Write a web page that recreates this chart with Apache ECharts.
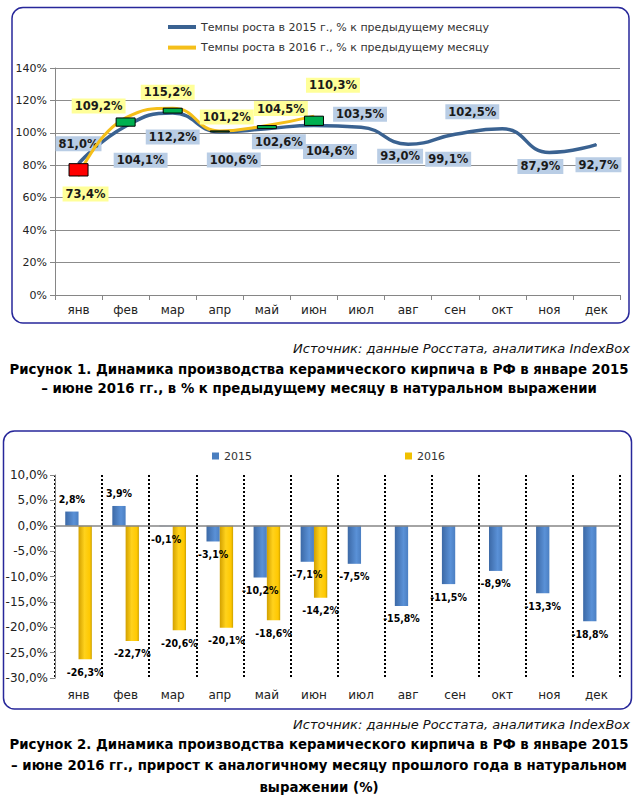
<!DOCTYPE html>
<html><head><meta charset="utf-8">
<script src="https://cdn.jsdelivr.net/npm/echarts@6/dist/echarts.min.js"></script>
<style>html,body{margin:0;padding:0;background:#fff}#c{width:634px;height:802px}</style>
</head><body><div id="c"></div>
<script>
const months = ['янв','фев','мар','апр','май','июн','июл','авг','сен','окт','ноя','дек'];
const growthName2015 = 'Темпы роста в 2015 г., % к предыдущему месяцу';
const growthName2016 = 'Темпы роста в 2016 г., % к предыдущему месяцу';
const growth2015 = [81.0,104.1,112.2,100.6,102.6,104.6,103.5,93.0,99.1,102.5,87.9,92.7];
const growth2016 = [73.4,109.2,115.2,101.2,104.5,110.3];
const yoyNames = ['2015','2016'];
const yoy2015 = [2.8,3.9,-0.1,-3.1,-10.2,-7.1,-7.5,-15.8,-11.5,-8.9,-13.3,-18.8];
const yoy2016 = [-26.3,-22.7,-20.6,-20.1,-18.6,-14.2];
const growthTicks = {min:0, max:140, interval:20};
const yoyTicks = {min:-30, max:10, interval:5};
const sourceText = 'Источник: данные Росстата, аналитика IndexBox';
const caption1 = ['Рисунок 1. Динамика производства керамического кирпича в РФ в январе 2015',
                  '– июне 2016 гг., в % к предыдущему месяцу в натуральном выражении'];
const caption2 = ['Рисунок 2. Динамика производства керамического кирпича в РФ в январе 2015',
                  '– июне 2016 гг., прирост к аналогичному месяцу прошлого года в натуральном',
                  'выражении (%)'];
// label placement (pixel offsets of each label from its point)
const lblOff2015 = [[0,-20],[15,34],[0,24],[14,28],[12,13],[16,26],[-1,-13],[-8,12],[-7,25],[-30,-17],[-9,14],[2,20]];
const lblOff2016 = [[7,18],[-27,-12],[-5,-16],[7,-14],[14,-17],[19,-31]];

const FONT = '"DejaVu Sans", Verdana, sans-serif';
const COND = '"DejaVu Sans Condensed", "DejaVu Sans", sans-serif';
const fmt1 = v => v.toFixed(1).replace('.', ',') + '%';
const fmt0 = v => v + '%';
const C15 = '#3a6291', C16 = '#f5bf1a';

const chart = echarts.init(document.getElementById('c'), null, {renderer:'svg'});

const graphics = [
  {type:'rect', shape:{x:12, y:7.5, width:617, height:315.5, r:11}, style:{fill:'none', stroke:'#27279a', lineWidth:1.5}, silent:true},
  {type:'rect', shape:{x:3.5, y:431, width:628, height:278, r:11}, style:{fill:'none', stroke:'#27279a', lineWidth:1.5}, silent:true},
  {type:'text', style:{text:sourceText, x:630, y:348, align:'right', verticalAlign:'middle', font:'italic 13px ' + FONT, fill:'#111'}},
  {type:'text', style:{text:sourceText, x:630, y:724, align:'right', verticalAlign:'middle', font:'italic 13px ' + FONT, fill:'#111'}}
];
[369, 388].forEach((y, i) => graphics.push({type:'text', style:{text:caption1[i], x:319, y:y, align:'center', verticalAlign:'middle', font:'bold 13.3px ' + FONT, fill:'#000'}}));
[744, 765, 787].forEach((y, i) => graphics.push({type:'text', style:{text:caption2[i], x:319, y:y, align:'center', verticalAlign:'middle', font:'bold 13.3px ' + FONT, fill:'#000'}}));

const lineLabel = (bg) => ({show:true, position:'inside', formatter:p => fmt1(p.value), fontFamily:FONT, fontWeight:'bold', fontSize:11.5, color:'#1a1a1a', backgroundColor:bg, padding:[1,3], lineHeight:13});

const blueGrad = {type:'linear', x:0, y:0, x2:1, y2:0, colorStops:[{offset:0,color:'#3c69a6'},{offset:0.65,color:'#5a91d7'},{offset:1,color:'#4b7fc2'}]};
const goldGrad = {type:'linear', x:0, y:0, x2:1, y2:0, colorStops:[{offset:0,color:'#d2a000'},{offset:0.45,color:'#ffd21c'},{offset:0.85,color:'#ffc800'},{offset:1,color:'#caa000'}]};
const barLabel = {show:true, formatter:p => fmt1(p.value), fontFamily:COND, fontWeight:'bold', fontSize:10.5, color:'#000', distance:7};

chart.setOption({
  animation:false,
  backgroundColor:'#fff',
  graphic:graphics,
  legend:[
    {orient:'vertical', left:163, top:15, itemWidth:28, itemHeight:4, itemGap:6.6, icon:'rect',
     textStyle:{fontFamily:FONT, fontSize:11, color:'#333', lineHeight:14},
     data:[{name:growthName2015}, {name:growthName2016}]},
    {orient:'horizontal', left:207, top:444, itemWidth:7, itemHeight:7, itemGap:153, icon:'rect',
     textStyle:{fontFamily:FONT, fontSize:11, color:'#333', lineHeight:14},
     data:[{name:yoyNames[0], itemStyle:{color:'#4a7ebf'}}, {name:yoyNames[1], itemStyle:{color:'#f0c000'}}]}
  ],
  grid:[
    {left:55, top:68, width:565, height:227},
    {left:55, top:475, width:565, height:203}
  ],
  xAxis:[
    {type:'category', gridIndex:0, data:months, boundaryGap:true,
     axisLine:{lineStyle:{color:'#868686', width:1}},
     axisTick:{show:true, alignWithLabel:false, length:5, lineStyle:{color:'#868686'}},
     axisLabel:{fontFamily:FONT, fontSize:12, color:'#222', margin:9},
     splitLine:{show:false}},
    {type:'category', gridIndex:1, data:months, boundaryGap:true,
     axisLine:{show:false, onZero:false}, axisTick:{show:false},
     axisLabel:{fontFamily:FONT, fontSize:12, color:'#222', margin:11},
     splitLine:{show:true, interval:0, lineStyle:{color:'#000', type:[2,2], width:2}}}
  ],
  yAxis:[
    {type:'value', gridIndex:0, min:growthTicks.min, max:growthTicks.max, interval:growthTicks.interval,
     axisLine:{show:true, lineStyle:{color:'#868686'}},
     axisTick:{show:true, length:5, lineStyle:{color:'#868686'}},
     axisLabel:{formatter:fmt0, fontFamily:FONT, fontSize:11, color:'#222', margin:8},
     splitLine:{show:true, lineStyle:{color:'#8c8c8c', width:1}}},
    {type:'value', gridIndex:1, min:yoyTicks.min, max:yoyTicks.max, interval:yoyTicks.interval,
     axisLine:{show:true, lineStyle:{color:'#868686'}},
     axisTick:{show:true, length:5, lineStyle:{color:'#868686'}},
     axisLabel:{formatter:fmt1, fontFamily:FONT, fontSize:12, color:'#222', margin:7},
     splitLine:{show:false}}
  ],
  series:[
    {name:growthName2016, type:'line', xAxisIndex:0, yAxisIndex:0, smooth:0.5, color:C16,
     symbol:'circle', symbolSize:1, showSymbol:true, showAllSymbol:true,
     lineStyle:{color:C16, width:3}, itemStyle:{color:C16},
     label:lineLabel('#ffff99'), z:3,
     data:growth2016.map((v,i) => ({value:v, label:{offset:lblOff2016[i]}}))},
    {name:growthName2015, type:'line', xAxisIndex:0, yAxisIndex:0, smooth:0.5, color:C15,
     symbol:'circle', symbolSize:1, showSymbol:true, showAllSymbol:true,
     lineStyle:{color:C15, width:3.5}, itemStyle:{color:C15},
     label:lineLabel('#b9cde5'), z:2,
     data:growth2015.map((v,i) => ({value:v, label:{offset:lblOff2015[i]}}))},
    {name:'updown', type:'custom', xAxisIndex:0, yAxisIndex:0, z:4, silent:true,
     encode:{x:0, y:[1,2]},
     data:growth2016.map((v,i) => [i, growth2015[i], v]),
     renderItem:(params, api) => {
       const a = api.coord([api.value(0), api.value(1)]);
       const b = api.coord([api.value(0), api.value(2)]);
       const w = 19;
       const top = Math.min(a[1], b[1]);
       const h = Math.max(Math.abs(a[1] - b[1]), 1);
       return {type:'rect', shape:{x:a[0] - w/2, y:top, width:w, height:h},
               style:{fill: api.value(2) >= api.value(1) ? '#00b050' : '#ff0000', stroke:'#000', lineWidth:1}};
     }},
    {name:yoyNames[0], type:'bar', xAxisIndex:1, yAxisIndex:1, barWidth:13.3, barGap:'0%',
     itemStyle:{color:blueGrad},
     label:barLabel,
     data:yoy2015.map(v => ({value:v, label:{position: v >= 0 ? 'top' : 'bottom'}})),
     markLine:{silent:true, symbol:['none','none'], label:{show:false}, animation:false,
       lineStyle:{color:'#868686', type:'solid', width:1.5}, data:[{yAxis:0}]}},
    {name:yoyNames[1], type:'bar', xAxisIndex:1, yAxisIndex:1, barWidth:13.3, barGap:'0%',
     itemStyle:{color:goldGrad},
     label:barLabel,
     data:yoy2016.map(v => ({value:v, label:{position: v >= 0 ? 'top' : 'bottom'}}))}
  ]
});
</script></body></html>
